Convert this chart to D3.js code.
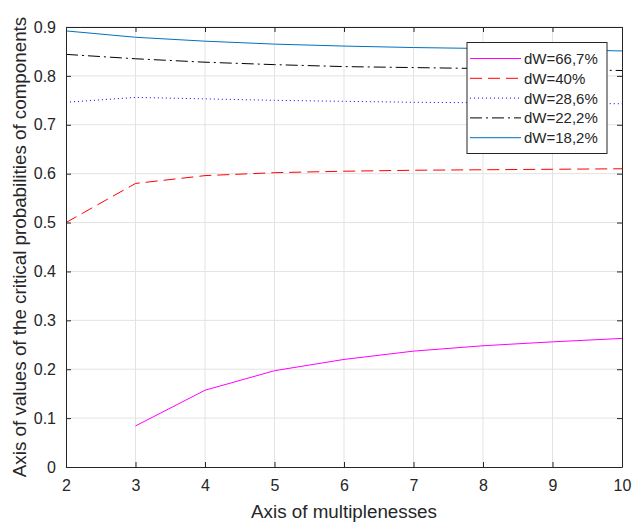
<!DOCTYPE html>
<html>
<head>
<meta charset="utf-8">
<script src="https://cdn.jsdelivr.net/npm/d3@7"></script>
<style>
  body { margin: 0; background: #fff; }
  text { font-family: "Liberation Sans", Arial, sans-serif; fill: #262626; }
</style>
</head>
<body>
<div id="chart"></div>
<script>
// Data
const multiplenesses = [2, 3, 4, 5, 6, 7, 8, 9, 10];
const dw667 = [null, 0.084, 0.157, 0.197, 0.220, 0.237, 0.248, 0.256, 0.263];
const dw40  = [0.500, 0.580, 0.596, 0.602, 0.605, 0.607, 0.608, 0.609, 0.610];
const dw286 = [0.746, 0.756, 0.753, 0.750, 0.748, 0.746, 0.745, 0.744, 0.743];
const dw222 = [0.844, 0.835, 0.828, 0.823, 0.819, 0.817, 0.815, 0.813, 0.811];
const dw182 = [0.892, 0.879, 0.871, 0.865, 0.861, 0.858, 0.856, 0.854, 0.851];
const yTicks = [0, 0.1, 0.2, 0.3, 0.4, 0.5, 0.6, 0.7, 0.8, 0.9];

const series = [
  {name: "dW=66,7%", values: dw667, color: "#ff00ff", dash: null},
  {name: "dW=40%",   values: dw40,  color: "#ff0000", dash: "12,6"},
  {name: "dW=28,6%", values: dw286, color: "#0000ff", dash: "1,3"},
  {name: "dW=22,2%", values: dw222, color: "#000000", dash: "12,4,2,4"},
  {name: "dW=18,2%", values: dw182, color: "#0072bd", dash: null}
];

const margin = {top: 27, left: 66},
      width = 556,
      height = 440;

const svg = d3.select("#chart")
  .append("svg")
  .attr("width", 632)
  .attr("height", 523)
  .append("g")
  .attr("transform", `translate(${margin.left},${margin.top})`);

const x = d3.scaleLinear().domain([2, 10]).range([0, width]);
const y = d3.scaleLinear().domain([0, 0.9]).range([height, 0]);

// Grid
svg.append("g")
  .selectAll("line")
  .data(multiplenesses.slice(1, -1))
  .join("line")
  .attr("x1", d => x(d)).attr("x2", d => x(d))
  .attr("y1", 0).attr("y2", height)
  .attr("stroke", "#e3e3e3");
svg.append("g")
  .selectAll("line")
  .data(yTicks.slice(1))
  .join("line")
  .attr("x1", 0).attr("x2", width)
  .attr("y1", d => y(d)).attr("y2", d => y(d))
  .attr("stroke", "#e3e3e3");

// Lines
const line = d3.line()
  .defined(d => d[1] !== null)
  .x(d => x(d[0]))
  .y(d => y(d[1]));

series.forEach(s => {
  svg.append("path")
    .datum(multiplenesses.map((m, i) => [m, s.values[i]]))
    .attr("d", line)
    .attr("fill", "none")
    .attr("stroke", s.color)
    .attr("stroke-width", 1)
    .attr("stroke-dasharray", s.dash);
});

// Axes (ticks inward, box on all sides)
const axisColor = "#262626";
const xb = svg.append("g").attr("transform", `translate(0,${height})`)
  .call(d3.axisBottom(x).tickValues(multiplenesses).tickSizeInner(-5).tickSizeOuter(0).tickPadding(13).tickFormat(d3.format("d")));
const xt = svg.append("g")
  .call(d3.axisTop(x).tickValues(multiplenesses).tickSizeInner(-5).tickSizeOuter(0).tickFormat(""));
const yl = svg.append("g")
  .call(d3.axisLeft(y).tickValues(yTicks).tickSizeInner(-5).tickSizeOuter(0).tickPadding(10).tickFormat(d => d === 0 ? "0" : d3.format(".1f")(d)));
const yr = svg.append("g").attr("transform", `translate(${width},0)`)
  .call(d3.axisRight(y).tickValues(yTicks).tickSizeInner(-5).tickSizeOuter(0).tickFormat(""));

[xb, xt, yl, yr].forEach(g => {
  g.selectAll("path, line").attr("stroke", axisColor);
  g.selectAll("text").attr("fill", axisColor)
    .style("font-size", "16px")
    .style("font-family", "'Liberation Sans', Arial, sans-serif");
});

// Axis titles
svg.append("text")
  .attr("x", 278)
  .attr("y", 491)
  .attr("text-anchor", "middle")
  .style("font-size", "18.8px")
  .text("Axis of multiplenesses");

svg.append("text")
  .attr("transform", "translate(-40,220) rotate(-90)")
  .attr("text-anchor", "middle")
  .style("font-size", "18.8px")
  .text("Axis of values of the critical probabilities of components");

// Legend
const legend = svg.append("g").attr("transform", "translate(401,15.5)");
legend.append("rect")
  .attr("x", 0).attr("y", 0)
  .attr("width", 140).attr("height", 111)
  .attr("fill", "#fff")
  .attr("stroke", axisColor)
  .attr("stroke-width", 1);

series.forEach((s, i) => {
  const ly = 16 + i * 19.8;
  legend.append("line")
    .attr("x1", 3).attr("x2", 54)
    .attr("y1", ly).attr("y2", ly)
    .attr("stroke", s.color)
    .attr("stroke-dasharray", s.dash);
  legend.append("text")
    .attr("x", 57)
    .attr("y", ly + 5.5)
    .style("font-size", "15px")
    .text(s.name);
});
</script>
</body>
</html>
